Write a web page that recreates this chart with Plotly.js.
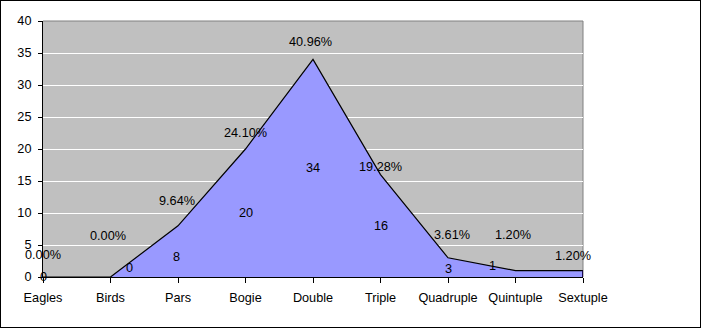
<!DOCTYPE html>
<html>
<head>
<meta charset="utf-8">
<script src="https://cdn.plot.ly/plotly-3.0.1.min.js"></script>
<style>
html,body{margin:0;padding:0;background:#fff;}
#chart{width:699px;height:326px;border:1px solid #000;}
</style>
</head>
<body>
<div id="chart"></div>
<script>
// Data
const categories = ["Eagles","Birds","Pars","Bogie","Double","Triple","Quadruple","Quintuple","Sextuple"];
const counts = [0, 0, 8, 20, 34, 16, 3, 1, 1];
const yTickValues = [0,5,10,15,20,25,30,35,40];

// Label placement (layout only, pixels)
const pctShiftX = [0, -3, -1.5, 0, -3, 0, 4, -3, -10.5];
const pctShiftY = [22, 41, 25, 16.5, 17, 7.5, 23, 35.6, 15];
const valShiftX = [0, 18.7, -1.4, 0, 0, 0, 0, -23, 0];
const valShiftY = [0, 8.7, -5.3, 0, 0, 0, -1.6, 7.8, 0];

const total = counts.reduce((a,b)=>a+b,0);
const FONT = "Liberation Sans, Arial, sans-serif";

const annotations = [];
categories.forEach((c,i)=>{
  annotations.push({
    x: c, y: counts[i], xref:'x', yref:'y', showarrow:false,
    text: (counts[i]/total*100).toFixed(2)+'%',
    xshift: pctShiftX[i], yshift: pctShiftY[i],
    font:{family:FONT,size:12.7,color:'#000'}
  });
  if (i < categories.length-1) {
    annotations.push({
      x: c, y: counts[i]/2, xref:'x', yref:'y', showarrow:false,
      text: String(counts[i]),
      xshift: valShiftX[i], yshift: valShiftY[i],
      font:{family:FONT,size:12.7,color:'#000'}
    });
  }
});

const last = categories.length-1;
const traces = [
  {
    type:'scatter', mode:'lines', x: categories, y: counts,
    fill:'tozeroy', fillcolor:'#9999FF',
    line:{color:'#000', width:1.2}, hoverinfo:'skip', cliponaxis:false
  },
  {
    type:'scatter', mode:'lines',
    x:[categories[last], categories[last]], y:[0, counts[last]],
    line:{color:'#1a0a50', width:2}, hoverinfo:'skip', cliponaxis:false
  }
];

const layout = {
  width:699, height:326,
  margin:{l:42, r:116.5, t:20, b:50},
  paper_bgcolor:'#fff', plot_bgcolor:'#C0C0C0',
  showlegend:false,
  font:{family:FONT, size:12.7, color:'#000'},
  xaxis:{
    type:'category', range:[0, categories.length-1],
    showgrid:false, zeroline:false,
    showline:true, linecolor:'#000', linewidth:1,
    ticks:'outside', ticklen:5, tickcolor:'#000', tickwidth:1,
    tickfont:{family:FONT,size:12.7,color:'#000'},
    ticklabelstandoff:4
  },
  yaxis:{
    range:[0,40], tickvals:yTickValues, ticktext:yTickValues.map(String),
    showgrid:true, gridcolor:'#fff', gridwidth:1, zeroline:false,
    showline:true, linecolor:'#000', linewidth:1,
    ticks:'outside', ticklen:4, tickcolor:'#000', tickwidth:1,
    tickfont:{family:FONT,size:12.7,color:'#000'},
    ticklabelstandoff:4
  },
  shapes:[
    {type:'line', xref:'paper', yref:'paper', x0:0, x1:1, y0:1, y1:1, line:{color:'#808080', width:1}, layer:'between'},
    {type:'line', xref:'paper', yref:'paper', x0:1, x1:1, y0:0, y1:1, line:{color:'#808080', width:1}, layer:'between'}
  ],
  annotations: annotations
};

Plotly.newPlot('chart', traces, layout, {staticPlot:true, displayModeBar:false});
</script>
</body>
</html>
